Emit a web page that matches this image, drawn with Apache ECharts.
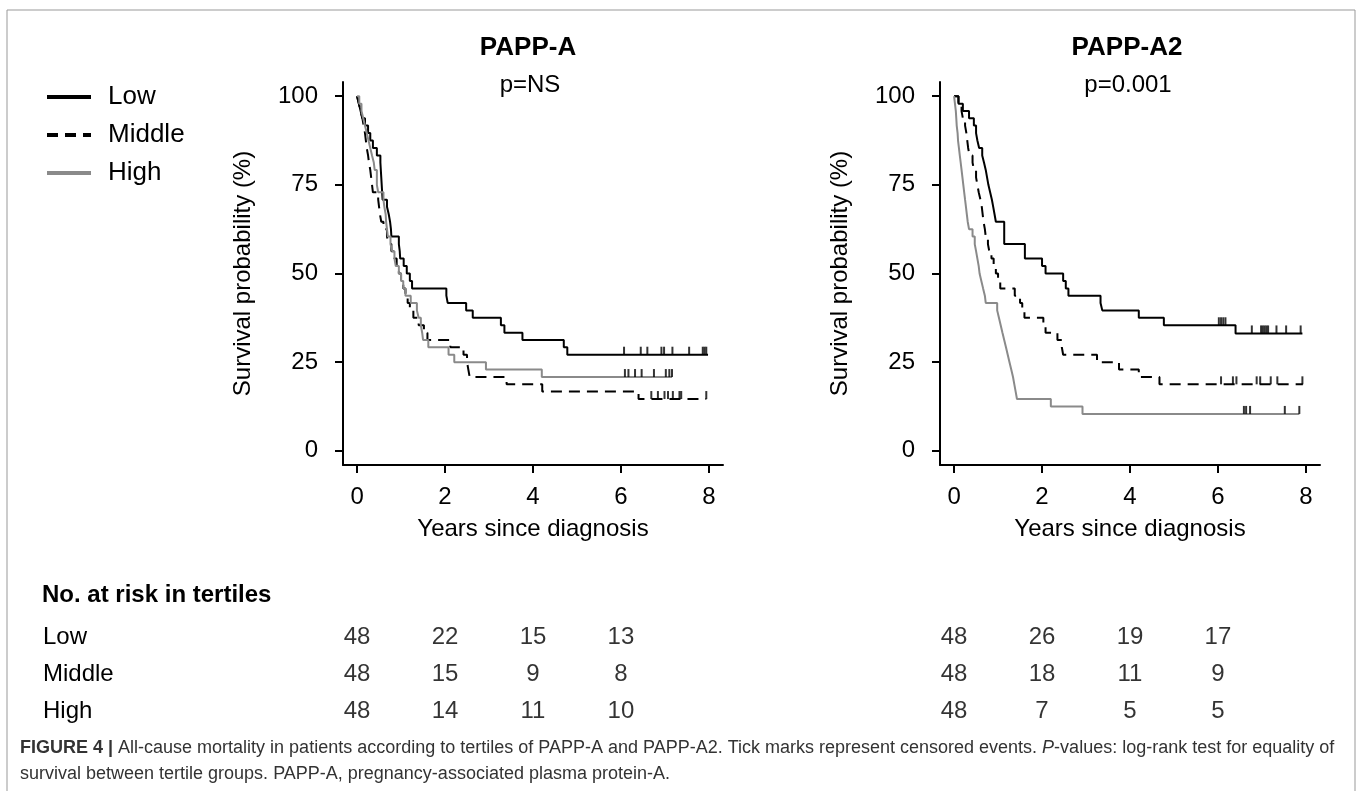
<!DOCTYPE html>
<html><head><meta charset="utf-8">
<script src="https://cdn.jsdelivr.net/npm/echarts@6.0.0/dist/echarts.min.js"></script>
<style>html,body{margin:0;padding:0;background:#fff}#c{width:1358px;height:791px}</style>
</head><body><div id="c"></div><script>
// ---------- data ----------
const xTicks = [0, 2, 4, 6, 8];
const yTicks = [0, 25, 50, 75, 100];
const groups = ['Low', 'Middle', 'High'];
const riskTimes = [0, 2, 4, 6];

// PAPP-A curves [years, survival %]
const aLow = [[0,100],[0.04,97.9],[0.08,95.8],[0.12,93.8],[0.18,91.7],[0.25,89.6],[0.3,87.5],[0.36,85.4],[0.45,83.3],[0.53,81.3],[0.55,77.1],[0.57,72.9],[0.58,70.8],[0.68,68.8],[0.72,66.7],[0.75,64.6],[0.77,62.5],[0.78,60.4],[0.95,58.3],[0.97,56.3],[0.98,54.2],[1.06,52.1],[1.13,50],[1.2,47.9],[1.25,45.8],[2.03,43.75],[2.06,41.7],[2.48,39.6],[2.63,37.5],[3.27,35.4],[3.35,33.3],[3.76,31.25],[4.70,29.2],[4.78,27.1],[7.98,27.1]];
const aMid = [[0,100],[0.04,97.9],[0.08,95.8],[0.12,93.8],[0.15,91.7],[0.18,89.6],[0.2,87.5],[0.22,85.4],[0.25,83.3],[0.27,81.3],[0.3,79.2],[0.32,77.1],[0.34,75],[0.36,72.9],[0.48,70.8],[0.5,68.8],[0.52,66.7],[0.55,64.6],[0.6,62.5],[0.68,60.4],[0.72,58.3],[0.78,56.3],[0.85,54.2],[0.9,52.1],[0.95,50],[1.0,47.9],[1.05,45.8],[1.1,43.75],[1.15,41.7],[1.2,39.6],[1.28,37.5],[1.4,35.4],[1.52,33.3],[1.6,31.25],[2.12,29.2],[2.42,27.1],[2.5,25],[2.53,22.9],[2.56,20.8],[3.40,18.75],[4.21,16.7],[6.40,14.6],[7.94,14.6]];
const aHigh = [[0,100],[0.05,97.9],[0.1,95.8],[0.14,93.8],[0.18,91.7],[0.22,89.6],[0.26,87.5],[0.3,85.4],[0.34,83.3],[0.38,81.3],[0.4,79.2],[0.45,75],[0.48,72.9],[0.6,70.8],[0.62,68.8],[0.65,66.7],[0.66,64.6],[0.68,62.5],[0.7,60.4],[0.76,58.3],[0.8,56.3],[0.85,54.2],[0.88,52.1],[0.95,50],[1.0,47.9],[1.05,45.8],[1.1,43.75],[1.22,41.7],[1.36,39.6],[1.4,37.5],[1.45,35.4],[1.48,33.3],[1.5,31.25],[1.62,29.2],[2.08,27.1],[2.21,25],[2.93,22.9],[4.20,20.8],[7.16,20.8]];
const aLowCens = [[6.07,27.1],[6.45,27.1],[6.6,27.1],[6.92,27.1],[6.98,27.1],[7.17,27.1],[7.55,27.1],[7.86,27.1],[7.9,27.1],[7.94,27.1]];
const aMidCens = [[6.69,14.6],[6.84,14.6],[6.99,14.6],[7.07,14.6],[7.18,14.6],[7.33,14.6],[7.37,14.6],[7.94,14.6]];
const aHighCens = [[6.09,20.8],[6.17,20.8],[6.32,20.8],[6.47,20.8],[6.75,20.8],[7.02,20.8],[7.1,20.8],[7.16,20.8]];

// PAPP-A2 curves
const bLow = [[0,100],[0.1,97.9],[0.2,95.8],[0.34,93.8],[0.45,91.7],[0.5,89.6],[0.53,87.5],[0.57,85.4],[0.64,83.3],[0.68,81.3],[0.72,79.2],[0.75,77.1],[0.78,75],[0.82,72.9],[0.86,70.8],[0.89,68.8],[0.92,66.7],[0.95,64.6],[1.14,58.3],[1.61,54.2],[2.0,52.1],[2.08,50],[2.48,47.9],[2.54,45.8],[2.6,43.75],[3.33,41.7],[3.37,39.6],[4.2,37.5],[4.77,35.4],[6.4,33.1],[7.92,33.1]];
const bMid = [[0,100],[0.1,97.9],[0.17,95.8],[0.2,93.8],[0.25,91.7],[0.28,89.6],[0.3,87.5],[0.32,85.4],[0.35,83.3],[0.42,81.3],[0.45,79.2],[0.5,77.1],[0.53,75],[0.56,72.9],[0.6,70.8],[0.63,68.8],[0.65,66.7],[0.67,64.6],[0.7,62.5],[0.72,60.4],[0.77,58.3],[0.8,56.3],[0.85,54.2],[0.9,52.1],[0.95,50],[1.0,47.9],[1.05,45.8],[1.38,43.75],[1.5,41.7],[1.55,39.6],[1.6,37.5],[2.03,35.4],[2.08,33.3],[2.35,31.25],[2.45,29.2],[2.48,27.1],[3.25,25],[3.75,22.9],[4.2,20.8],[4.67,18.75],[7.93,18.75]];
const bHigh = [[0,100],[0.02,97.9],[0.04,95.8],[0.05,93.8],[0.06,91.7],[0.08,89.6],[0.09,87.5],[0.11,85.4],[0.13,83.3],[0.15,81.3],[0.17,79.2],[0.19,77.1],[0.21,75],[0.23,72.9],[0.25,70.8],[0.27,68.8],[0.29,66.7],[0.31,64.6],[0.34,62.5],[0.42,60.4],[0.47,58.3],[0.5,56.3],[0.53,54.2],[0.56,52.1],[0.58,50],[0.62,47.9],[0.66,45.8],[0.7,43.75],[0.72,41.7],[0.98,39.6],[1.02,37.5],[1.06,35.4],[1.1,33.3],[1.14,31.25],[1.18,29.2],[1.22,27.1],[1.26,25],[1.3,22.9],[1.34,20.8],[1.37,18.75],[1.4,16.7],[1.43,14.6],[2.2,12.5],[2.92,10.4],[7.85,10.4]];
const bLowCens = [[6.02,35.4],[6.07,35.4],[6.12,35.4],[6.17,35.4],[6.77,33.1],[6.98,33.1],[7.02,33.1],[7.06,33.1],[7.1,33.1],[7.14,33.1],[7.33,33.1],[7.55,33.1],[7.88,33.1]];
const bMidCens = [[6.07,18.75],[6.34,18.75],[6.42,18.75],[6.88,18.75],[6.96,18.75],[7.2,18.75],[7.35,18.75],[7.92,18.75]];
const bHighCens = [[6.59,10.4],[6.64,10.4],[6.73,10.4],[7.52,10.4],[7.85,10.4]];

// numbers at risk
const riskALow = [48, 22, 15, 13];
const riskAMid = [48, 15, 9, 8];
const riskAHigh = [48, 14, 11, 10];
const riskBLow = [48, 26, 19, 17];
const riskBMid = [48, 18, 11, 9];
const riskBHigh = [48, 7, 5, 5];

// ---------- styles ----------
const FONT = '"Liberation Sans", Arial, Helvetica, sans-serif';
const GRAY = '#8a8a8a';
const lineStyles = {
  Low: {color: '#000', type: 'solid'},
  Middle: {color: '#000', type: [11, 7]},
  High: {color: GRAY, type: 'solid'}
};

const chart = echarts.init(document.getElementById('c'), null, {renderer: 'canvas'});

const PW = 380;
const grids = [
  {left: 343, top: 82, width: PW, height: 383},
  {left: 940, top: 82, width: PW, height: 383},
  {left: 343, top: 619, width: PW, height: 111},
  {left: 940, top: 619, width: PW, height: 111}
];

function plotX(i) {
  return {
    gridIndex: i, type: 'value', min: -0.32, max: 8.32,
    name: 'Years since diagnosis', nameLocation: 'middle', nameGap: 52,
    nameTextStyle: {fontFamily: FONT, fontSize: 24, color: '#000'},
    axisLine: {show: true, onZero: false, lineStyle: {color: '#000', width: 2}},
    axisTick: {show: true, length: 8, lineStyle: {color: '#000', width: 2}, customValues: xTicks},
    axisLabel: {fontFamily: FONT, fontSize: 24, color: '#000', margin: 20, customValues: xTicks},
    splitLine: {show: false}
  };
}
function plotY(i) {
  return {
    gridIndex: i, type: 'value', min: -4, max: 104,
    name: 'Survival probability (%)', nameLocation: 'middle', nameGap: 88,
    nameTextStyle: {fontFamily: FONT, fontSize: 24, color: '#000'},
    axisLine: {show: true, onZero: false, lineStyle: {color: '#000', width: 2}},
    axisTick: {show: true, length: 8, lineStyle: {color: '#000', width: 2}, customValues: yTicks},
    axisLabel: {fontFamily: FONT, fontSize: 24, color: '#000', margin: 25, customValues: yTicks},
    splitLine: {show: false}
  };
}
function tableX(i) {
  return {gridIndex: i, type: 'value', min: -0.32, max: 8.32, show: false};
}
function tableY(i, showLabels) {
  return {
    gridIndex: i, type: 'category', data: groups, inverse: true,
    axisLine: {show: false}, axisTick: {show: false}, splitLine: {show: false},
    axisLabel: {show: showLabels, align: 'left', margin: 300, fontFamily: FONT, fontSize: 24, color: '#000'}
  };
}

const series = [];
function addCurves(axis, curves, cens) {
  groups.forEach((g, k) => {
    series.push({
      name: g, type: 'line', step: 'end', symbol: 'none', showSymbol: false, data: curves[k],
      xAxisIndex: axis, yAxisIndex: axis,
      lineStyle: {color: lineStyles[g].color, width: 2, type: lineStyles[g].type},
      itemStyle: {color: lineStyles[g].color}, z: 3
    });
  });
  groups.forEach((g, k) => {
    series.push({
      name: 'censored ' + g, type: 'scatter', data: cens[k],
      xAxisIndex: axis, yAxisIndex: axis,
      symbol: 'rect', symbolSize: [2, 8], symbolOffset: [0, -4],
      itemStyle: {color: '#000'}, z: 4
    });
  });
}
addCurves(0, [aLow, aMid, aHigh], [aLowCens, aMidCens, aHighCens]);
addCurves(1, [bLow, bMid, bHigh], [bLowCens, bMidCens, bHighCens]);

function addRisk(axis, rows) {
  const data = [];
  groups.forEach((g, k) => rows[k].forEach((v, j) => data.push([riskTimes[j], g, v])));
  series.push({
    name: 'at risk', type: 'scatter', xAxisIndex: axis, yAxisIndex: axis,
    data: data, symbolSize: 1, itemStyle: {color: 'rgba(0,0,0,0)'},
    label: {show: true, position: 'inside', formatter: p => String(p.value[2]),
      fontFamily: FONT, fontSize: 24, color: '#000'}
  });
}
addRisk(2, [riskALow, riskAMid, riskAHigh]);
addRisk(3, [riskBLow, riskBMid, riskBHigh]);

function txt(text, x, y, size, weight, align) {
  return {type: 'text', x: x, y: y, style: {text: text, fontFamily: FONT, fontSize: size,
    fontWeight: weight || 'normal', fill: '#000', textAlign: align || 'center', textVerticalAlign: 'middle'}};
}

chart.setOption({
  animation: false,
  backgroundColor: '#fff',
  grid: grids,
  xAxis: [plotX(0), plotX(1), tableX(2), tableX(3)],
  yAxis: [plotY(0), plotY(1), tableY(2, true), tableY(3, false)],
  legend: {
    data: groups, orient: 'vertical', left: 45, top: 82, padding: 0,
    itemWidth: 44, itemHeight: 14, itemGap: 8,
    lineStyle: {width: 4},
    itemStyle: {opacity: 0},
    textStyle: {fontFamily: FONT, fontSize: 26, color: '#000', lineHeight: 30, padding: [0, 0, 0, 12]},
    selectedMode: false
  },
  series: series,
  graphic: [
    {type: 'rect', shape: {x: 7, y: 10, width: 1348, height: 820}, style: {fill: 'none', stroke: '#999', lineWidth: 1}, silent: true},
    txt('PAPP-A', 528, 48, 26, 'bold'),
    txt('p=NS', 530, 85, 24),
    txt('PAPP-A2', 1127, 48, 26, 'bold'),
    txt('p=0.001', 1128, 85, 24),
    txt('No. at risk in tertiles', 42, 595, 24, 'bold', 'left'),
    {type: 'text', x: 20, y: 735, style: {
      text: '{b|FIGURE 4 |} All-cause mortality in patients according to tertiles of PAPP-A and PAPP-A2. Tick marks represent censored events. {i|P}-values: log-rank test for equality of\nsurvival between tertile groups. PAPP-A, pregnancy-associated plasma protein-A.',
      fontFamily: FONT, fontSize: 18, fill: '#333', lineHeight: 26,
      rich: {b: {fontWeight: 'bold', fontFamily: FONT, fontSize: 18, fill: '#333'}, i: {fontStyle: 'italic', fontFamily: FONT, fontSize: 18, fill: '#333'}}
    }}
  ]
});
</script></body></html>
